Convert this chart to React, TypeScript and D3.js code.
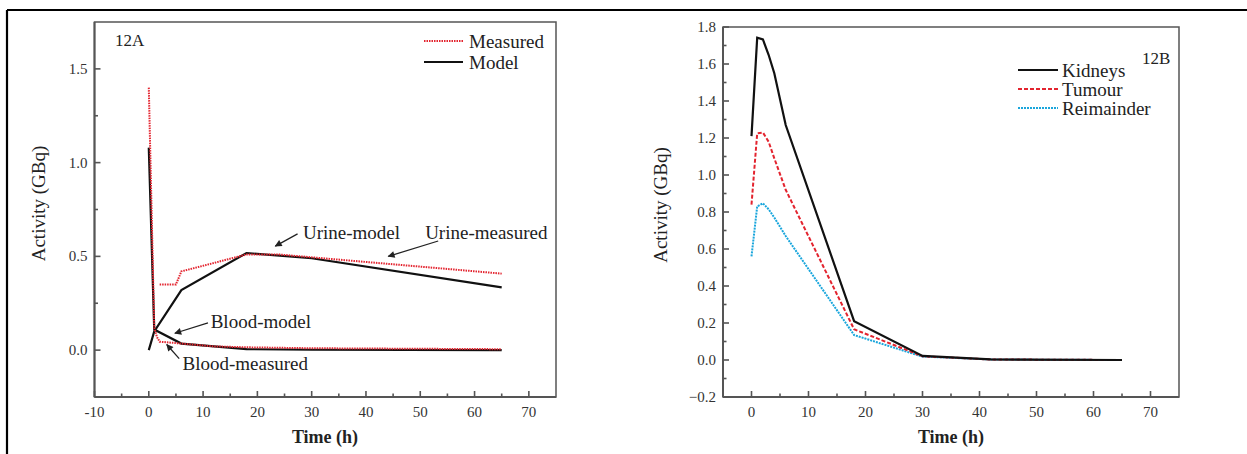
import React from 'react';
import * as d3 from 'd3';

// ---- 12A data ----
const bloodMeasuredT = [0, 1, 1.5, 2, 6, 12, 18, 30, 65];
const bloodMeasuredV = [1.4, 0.12, 0.07, 0.045, 0.035, 0.02, 0.015, 0.01, 0.005];
const urineMeasuredT = [2, 5, 6, 18, 24, 65];
const urineMeasuredV = [0.35, 0.35, 0.42, 0.51, 0.51, 0.408];
const bloodModelT = [0, 1, 6, 18, 30, 65];
const bloodModelV = [1.08, 0.11, 0.035, 0.005, 0.002, 0.0];
const urineModelT = [0, 1, 6, 18, 30, 65];
const urineModelV = [0, 0.1, 0.32, 0.518, 0.49, 0.335];

const xTicksA = [-10, 0, 10, 20, 30, 40, 50, 60, 70];
const xMinorA = [-5, 5, 15, 25, 35, 45, 55, 65];
const yTicksA = [0, 0.5, 1.0, 1.5];
const yMinorA = [0.25, 0.75, 1.25];

// annotations for 12A: label, text anchor (t,v), arrow tail, arrow tip
const annotationsA = [
  { label: 'Urine-model', text: [28.4, 0.593], tail: [27.4, 0.62], tip: [23.3, 0.555] },
  { label: 'Urine-measured', text: [50.9, 0.593], tail: [53.3, 0.582], tip: [44.1, 0.5] },
  { label: 'Blood-model', text: [11.4, 0.118], tail: [10.9, 0.145], tip: [4.8, 0.09] },
  { label: 'Blood-measured', text: [6.2, -0.106], tail: [5.6, -0.045], tip: [3.3, 0.03] },
];

// ---- 12B data ----
const timeB = [0, 1, 2, 3, 4, 6, 18, 30, 42, 65];
const kidneys = [1.21, 1.742, 1.733, 1.65, 1.55, 1.27, 0.21, 0.022, 0.003, 0.0];
const tumour = [0.84, 1.225, 1.23, 1.18, 1.09, 0.92, 0.166, 0.02, 0.003, 0.0];
const reimainder = [0.56, 0.83, 0.847, 0.815, 0.77, 0.67, 0.135, 0.018, 0.003, 0.0];

const xTicksB = [0, 10, 20, 30, 40, 50, 60, 70];
const xMinorB = [5, 15, 25, 35, 45, 55, 65];
const yTicksB = [-0.2, 0, 0.2, 0.4, 0.6, 0.8, 1.0, 1.2, 1.4, 1.6, 1.8];
const yMinorB = [-0.1, 0.1, 0.3, 0.5, 0.7, 0.9, 1.1, 1.3, 1.5, 1.7];

const FONT = '"Liberation Serif", "Times New Roman", serif';
const AXIS = '#555';
const RED = '#e3242f';
const CYAN = '#1aa6dc';

const zip = (t: number[], v: number[]) => t.map((d, i) => [d, v[i]] as [number, number]);

export default function App() {
  const W = 1247;
  const H = 454;

  const xA = d3.scaleLinear().domain([-10, 75]).range([94.5, 556]);
  const yA = d3.scaleLinear().domain([-0.25, 1.75]).range([397, 22]);
  const xB = d3.scaleLinear().domain([-5, 75]).range([723, 1179]);
  const yB = d3.scaleLinear().domain([-0.2, 1.8]).range([397, 27]);

  const lineA = d3.line<[number, number]>().x(d => xA(d[0])).y(d => yA(d[1]));
  const lineB = d3.line<[number, number]>().x(d => xB(d[0])).y(d => yB(d[1]));

  const fmt1 = d3.format('.1f');

  const axes = (
    x: d3.ScaleLinear<number, number>,
    y: d3.ScaleLinear<number, number>,
    xt: number[], xm: number[], yt: number[], ym: number[],
  ) => {
    const [x0, x1] = x.range();
    const [y0, y1] = y.range();
    return (
      <g>
        <rect x={x0} y={y1} width={x1 - x0} height={y0 - y1} fill="none" stroke={AXIS} strokeWidth={1.5} />
        <line x1={x0} x2={x1} y1={y0} y2={y0} stroke={AXIS} strokeWidth={2} />
        <line x1={x0} x2={x0} y1={y0} y2={y1} stroke={AXIS} strokeWidth={2} />
        {xt.map(t => (
          <g key={'xt' + t}>
            <line x1={x(t)} x2={x(t)} y1={y0} y2={y0 - 6} stroke={AXIS} strokeWidth={1.6} />
            <text x={x(t)} y={417} textAnchor="middle" fontSize={15} fill="#333" fontFamily={FONT}>{t}</text>
          </g>
        ))}
        {xm.map(t => (
          <line key={'xm' + t} x1={x(t)} x2={x(t)} y1={y0} y2={y0 - 3.5} stroke={AXIS} strokeWidth={1.6} />
        ))}
        {yt.map(v => (
          <g key={'yt' + v}>
            <line x1={x0} x2={x0 + 6} y1={y(v)} y2={y(v)} stroke={AXIS} strokeWidth={1.6} />
            <text x={x0 - 7} y={y(v) + 5} textAnchor="end" fontSize={15} fill="#333" fontFamily={FONT}>{fmt1(v)}</text>
          </g>
        ))}
        {ym.map(v => (
          <line key={'ym' + v} x1={x0} x2={x0 + 3.5} y1={y(v)} y2={y(v)} stroke={AXIS} strokeWidth={1.6} />
        ))}
      </g>
    );
  };

  return (
    <svg width={W} height={H} style={{ position: 'absolute', left: 0, top: 0, background: '#fff' }}>
      <defs>
        <marker id="arr" viewBox="0 0 10 10" refX="9" refY="5" markerWidth="9" markerHeight="7" orient="auto" markerUnits="userSpaceOnUse">
          <path d="M0,0 L10,5 L0,10 z" fill="#222" />
        </marker>
      </defs>
      <rect width={W} height={H} fill="#fff" />
      {/* outer frame */}
      <line x1={7} x2={W} y1={10} y2={10} stroke="#000" strokeWidth={2.2} />
      <line x1={7} x2={7} y1={10} y2={H} stroke="#000" strokeWidth={2.2} />

      {/* ---- 12A ---- */}
      {axes(xA, yA, xTicksA, xMinorA, yTicksA, yMinorA)}
      <path d={lineA(zip(bloodModelT, bloodModelV)) || ''} fill="none" stroke="#111" strokeWidth={2.2} />
      <path d={lineA(zip(urineModelT, urineModelV)) || ''} fill="none" stroke="#111" strokeWidth={2.2} />
      <path d={lineA(zip(bloodMeasuredT, bloodMeasuredV)) || ''} fill="none" stroke={RED} strokeWidth={2} strokeDasharray="1.5,1" />
      <path d={lineA(zip(urineMeasuredT, urineMeasuredV)) || ''} fill="none" stroke={RED} strokeWidth={2} strokeDasharray="1.5,1" />
      {annotationsA.map(a => (
        <g key={a.label}>
          <line x1={xA(a.tail[0])} y1={yA(a.tail[1])} x2={xA(a.tip[0])} y2={yA(a.tip[1])} stroke="#222" strokeWidth={1.3} markerEnd="url(#arr)" />
          <text x={xA(a.text[0])} y={yA(a.text[1])} fontSize={19} fill="#222" fontFamily={FONT}>{a.label}</text>
        </g>
      ))}
      <text x={115} y={46} fontSize={17} fill="#222" fontFamily={FONT}>12A</text>
      <line x1={424} x2={463} y1={41} y2={41} stroke={RED} strokeWidth={2} strokeDasharray="1.5,1" />
      <text x={469} y={47.5} fontSize={19} fill="#222" fontFamily={FONT}>Measured</text>
      <line x1={424} x2={463} y1={62} y2={62} stroke="#111" strokeWidth={2.2} />
      <text x={469} y={68.5} fontSize={19} fill="#222" fontFamily={FONT}>Model</text>
      <text x={325} y={443} textAnchor="middle" fontSize={18} fontWeight="bold" fill="#222" fontFamily={FONT}>Time (h)</text>
      <text transform="translate(45,203.5) rotate(-90)" textAnchor="middle" fontSize={19} fill="#222" fontFamily={FONT}>Activity (GBq)</text>

      {/* ---- 12B ---- */}
      {axes(xB, yB, xTicksB, xMinorB, yTicksB, yMinorB)}
      <path d={lineB(zip(timeB, reimainder)) || ''} fill="none" stroke={CYAN} strokeWidth={2} strokeDasharray="2,1" />
      <path d={lineB(zip(timeB, tumour)) || ''} fill="none" stroke={RED} strokeWidth={2} strokeDasharray="4,2" />
      <path d={lineB(zip(timeB, kidneys)) || ''} fill="none" stroke="#111" strokeWidth={2.2} />
      <text x={1142} y={64} fontSize={17} fill="#222" fontFamily={FONT}>12B</text>
      <line x1={1018} x2={1058} y1={70} y2={70} stroke="#111" strokeWidth={2.2} />
      <text x={1062} y={76.5} fontSize={19} fill="#222" fontFamily={FONT}>Kidneys</text>
      <line x1={1018} x2={1058} y1={89} y2={89} stroke={RED} strokeWidth={2} strokeDasharray="4,2" />
      <text x={1062} y={95.5} fontSize={19} fill="#222" fontFamily={FONT}>Tumour</text>
      <line x1={1018} x2={1058} y1={108} y2={108} stroke={CYAN} strokeWidth={2} strokeDasharray="2,1" />
      <text x={1062} y={114.5} fontSize={19} fill="#222" fontFamily={FONT}>Reimainder</text>
      <text x={951} y={443} textAnchor="middle" fontSize={18} fontWeight="bold" fill="#222" fontFamily={FONT}>Time (h)</text>
      <text transform="translate(667,205) rotate(-90)" textAnchor="middle" fontSize={19} fill="#222" fontFamily={FONT}>Activity (GBq)</text>
    </svg>
  );
}
